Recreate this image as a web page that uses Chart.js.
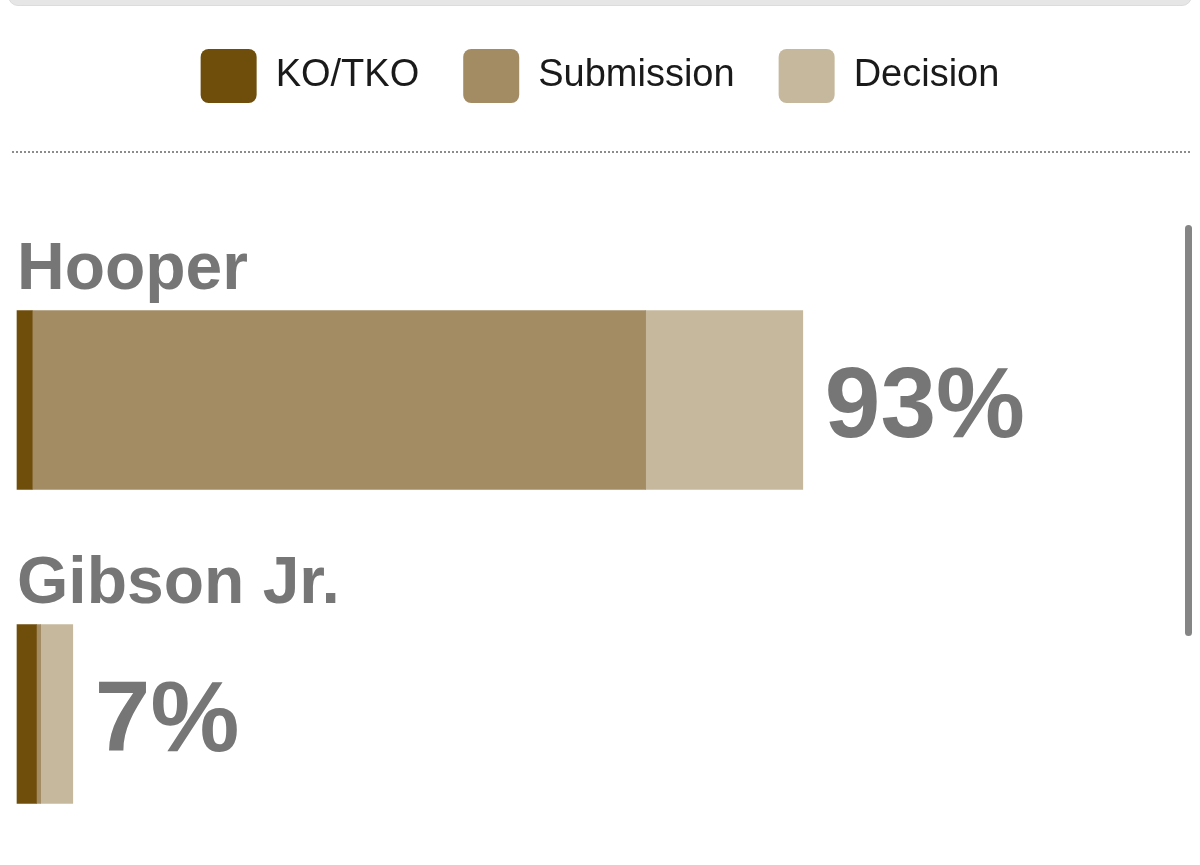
<!DOCTYPE html>
<html>
<head>
<meta charset="utf-8">
<script src="https://cdn.jsdelivr.net/npm/chart.js@4"></script>
<style>
    html, body { margin: 0; padding: 0; background: #fff; overflow: hidden; }
    #wrap { position: relative; width: 1200px; height: 865px; }
    #top-box {
        position: absolute; left: 8px; top: -40px; width: 1182px; height: 44px;
        background: #e6e6e6; border: 1px solid #dcdcdc; border-radius: 10px;
    }
    #divider {
        position: absolute; left: 12px; top: 151px; width: 1178px;
        border-top: 2px dotted #8c8c8c;
    }
    #scrollbar {
        position: absolute; left: 1185px; top: 225px; width: 7px; height: 411px;
        background: #858585; border-radius: 4px;
    }
    #chart { position: absolute; left: 0; top: 0; width: 1200px; height: 865px; }
</style>
</head>
<body>
<div id="wrap">
    <div id="top-box"></div>
    <div id="chart"><canvas id="finish-chart"></canvas></div>
    <div id="divider"></div>
    <div id="scrollbar"></div>
</div>
<script>
// Datos (porcentaje de victorias por método)
const fighters = ['Hooper', 'Gibson Jr.'];
const methods = ['KO/TKO', 'Submission', 'Decision'];
const koValues = [1.8, 2.3];
const submissionValues = [72.6, 0.5];
const decisionValues = [18.6, 3.8];
const totalLabels = ['93%', '7%'];

const methodColors = ['#6F4E0B', '#A38C63', '#C6B89C'];
const labelGray = '#767676';
const fontFamily = '"Liberation Sans", Arial, Helvetica, sans-serif';

// Nombres encima de cada barra y total a la derecha
const fighterLabels = {
    id: 'fighterLabels',
    afterDatasetsDraw(chart) {
        const ctx = chart.ctx;
        const first = chart.getDatasetMeta(0);
        const last = chart.getDatasetMeta(chart.data.datasets.length - 1);
        ctx.save();
        ctx.fillStyle = labelGray;
        ctx.textBaseline = 'alphabetic';
        first.data.forEach((bar, i) => {
            const top = bar.y - bar.height / 2;
            ctx.font = 'bold 66px ' + fontFamily;
            ctx.textAlign = 'left';
            ctx.fillText(fighters[i], chart.chartArea.left, top - 22);

            const end = last.data[i];
            ctx.font = 'bold 100px ' + fontFamily;
            ctx.fillText(totalLabels[i], end.x + 22, bar.y + 37);
        });
        ctx.restore();
    }
};

const seriesValues = [koValues, submissionValues, decisionValues];

new Chart(document.getElementById('finish-chart'), {
    type: 'bar',
    data: {
        labels: fighters,
        datasets: methods.map((name, i) => ({
            label: name,
            data: seriesValues[i],
            backgroundColor: methodColors[i],
            borderWidth: 0,
            barThickness: 179,
            clip: false
        }))
    },
    options: {
        indexAxis: 'y',
        responsive: true,
        maintainAspectRatio: false,
        animation: false,
        layout: {
            padding: { top: 5, left: 17, right: 17, bottom: 151 }
        },
        plugins: {
            tooltip: { enabled: false },
            legend: {
                position: 'top',
                labels: {
                    boxWidth: 56,
                    boxHeight: 54,
                    useBorderRadius: true,
                    borderRadius: 8,
                    padding: 44,
                    color: '#1a1a1a',
                    font: { family: fontFamily, size: 38 }
                }
            }
        },
        scales: {
            x: {
                stacked: true,
                position: 'top',
                min: 0,
                max: 138,
                grid: { display: false },
                border: { display: false },
                ticks: { display: false },
                afterFit(scale) {
                    scale.height = 287;
                }
            },
            y: {
                stacked: true,
                offset: false,
                display: false
            }
        }
    },
    plugins: [fighterLabels]
});
</script>
</body>
</html>
